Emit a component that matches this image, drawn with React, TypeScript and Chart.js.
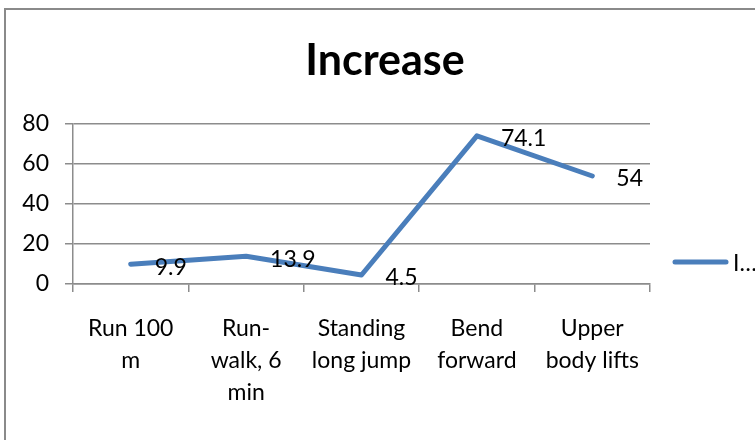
import React, { useEffect, useRef } from "react";
import { Chart, registerables } from "chart.js";

Chart.register(...registerables);

const categories: string[][] = [
  ["Run 100", "m"],
  ["Run-", "walk, 6", "min"],
  ["Standing", "long jump"],
  ["Bend", "forward"],
  ["Upper", "body lifts"],
];
const increaseValues: number[] = [9.9, 13.9, 4.5, 74.1, 54];
const dataLabels: string[] = ["9.9", "13.9", "4.5", "74.1", "54"];
const seriesName = "Increase";
const legendText = "I…";
const titleText = "Increase";
const yMin = 0;
const yMax = 80;
const yStep = 20;

const FONT = "Lato, 'Liberation Sans', sans-serif";
const LINE_COLOR = "#4a7ebb";
const GRID_COLOR = "#8c8c8c";

export default function App() {
  const ref = useRef<HTMLCanvasElement | null>(null);

  useEffect(() => {
    if (!ref.current) return;
    const decor = {
      id: "decor",
      beforeDraw(chart: any) {
        const ctx = chart.ctx;
        ctx.save();
        ctx.fillStyle = "#ffffff";
        ctx.fillRect(0, 0, chart.width, chart.height);
        ctx.strokeStyle = "#8a8a8a";
        ctx.lineWidth = 2;
        ctx.strokeRect(5, 9, 820, 520);
        ctx.restore();
      },
      afterDraw(chart: any) {
        const ctx = chart.ctx;
        ctx.save();
        // title
        ctx.fillStyle = "#000";
        ctx.font = `bold 43px ${FONT}`;
        ctx.textAlign = "center";
        ctx.textBaseline = "alphabetic";
        ctx.fillText(titleText, 385, 75);
        // data labels
        const meta = chart.getDatasetMeta(0);
        ctx.font = `23px ${FONT}`;
        ctx.textAlign = "left";
        ctx.textBaseline = "middle";
        meta.data.forEach((pt: any, i: number) => {
          ctx.fillText(dataLabels[i], pt.x + 24, pt.y + 3);
        });
        // legend
        ctx.strokeStyle = LINE_COLOR;
        ctx.lineWidth = 5;
        ctx.lineCap = "round";
        ctx.beginPath();
        ctx.moveTo(675, 262);
        ctx.lineTo(726, 262);
        ctx.stroke();
        ctx.fillStyle = "#000";
        ctx.fillText(legendText, 733, 264);
        ctx.restore();
      },
    };

    const chart = new Chart(ref.current, {
      type: "line",
      data: {
        labels: categories as any,
        datasets: [
          {
            label: seriesName,
            data: increaseValues,
            borderColor: LINE_COLOR,
            backgroundColor: LINE_COLOR,
            borderWidth: 5,
            pointRadius: 0,
            borderCapStyle: "round",
            borderJoinStyle: "round",
            tension: 0,
          },
        ],
      },
      options: {
        animation: false,
        responsive: false,
        devicePixelRatio: 1,
        layout: { padding: { left: 0, top: 124, right: 105, bottom: 0 } },
        plugins: {
          legend: { display: false },
          title: { display: false },
          tooltip: { enabled: false },
        },
        scales: {
          x: {
            type: "category",
            offset: true,
            afterFit(scale: any) {
              scale.height = 156;
            },
            grid: {
              offset: true,
              drawOnChartArea: false,
              drawTicks: true,
              tickLength: 8,
              color: GRID_COLOR,
              lineWidth: 1.5,
            },
            border: { display: true, color: GRID_COLOR, width: 1.5 },
            ticks: {
              color: "#000",
              font: { family: FONT, size: 23, lineHeight: 1.4 },
              padding: 20,
              maxRotation: 0,
              autoSkip: false,
            },
          },
          y: {
            min: yMin,
            max: yMax,
            afterFit(scale: any) {
              scale.width = 73;
            },
            grid: {
              color: GRID_COLOR,
              lineWidth: 1.5,
              drawTicks: true,
              tickLength: 8,
            },
            border: { display: true, color: GRID_COLOR, width: 1.5 },
            ticks: {
              stepSize: yStep,
              color: "#000",
              font: { family: FONT, size: 23 },
              padding: 16,
            },
          },
        },
      },
      plugins: [decor],
    });
    return () => chart.destroy();
  }, []);

  return (
    <div style={{ position: "absolute", left: 0, top: 0, width: 755, height: 440 }}>
      <canvas ref={ref} width={755} height={440} style={{ width: 755, height: 440 }} />
    </div>
  );
}
